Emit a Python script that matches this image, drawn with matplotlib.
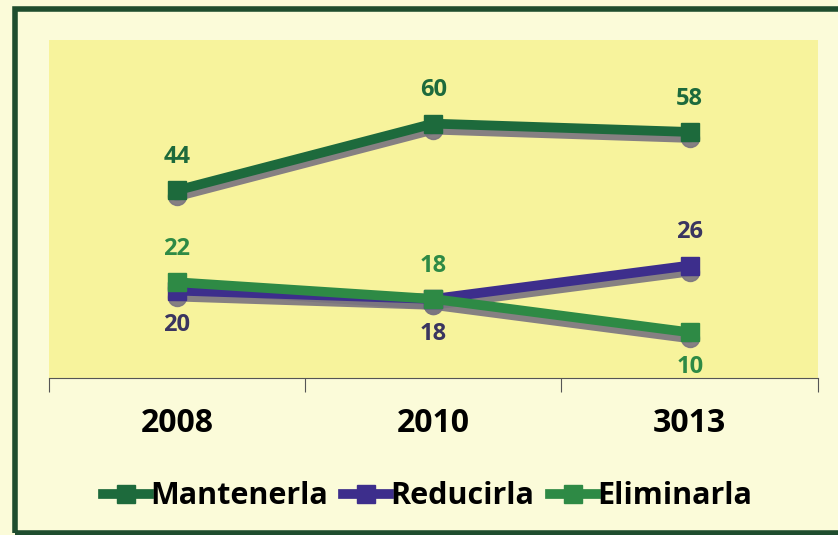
import matplotlib
matplotlib.use("Agg")
import matplotlib.pyplot as plt
from matplotlib.lines import Line2D
from matplotlib.patches import Rectangle
from matplotlib.transforms import offset_copy

years = ["2008", "2010", "3013"]
mantenerla = [44, 60, 58]
reducirla = [20, 18, 26]
eliminarla = [22, 18, 10]

# name, values, line colour, label colour, label above(+1)/below(-1)
series = [
    ("Mantenerla", mantenerla, "#1d6a3c", "#1d6a3c", [1, 1, 1]),
    ("Reducirla", reducirla, "#3d2e8c", "#3a3560", [-1, -1, 1]),
    ("Eliminarla", eliminarla, "#2e8a45", "#2e8a45", [1, 1, -1]),
]

plt.rcParams["font.family"] = ["Open Sans", "DejaVu Sans"]

fig = plt.figure(figsize=(8.38, 5.35), dpi=100)
fig.patch.set_facecolor("#fbfbd9")
ax = fig.add_axes([0.058, 0.293, 0.918, 0.632])
ax.set_facecolor("#f7f39c")

x = list(range(len(years)))
shadow_tr = offset_copy(ax.transData, fig=fig, x=0, y=-6, units="dots")
for name, vals, col, lcol, pos in series:
    ax.plot(x, vals, "-o", color="#7a7480", lw=7, ms=13, transform=shadow_tr,
            solid_capstyle="round", alpha=0.9, zorder=2)
for name, vals, col, lcol, pos in series:
    ax.plot(x, vals, "-s", color=col, lw=7, ms=13, zorder=3)
    for xi, v, p in zip(x, vals, pos):
        off = 24 if p > 0 else -25
        ax.annotate(str(v), (xi, v), textcoords="offset points", xytext=(0, off),
                    ha="center", va="center", fontsize=17, fontweight="bold", color=lcol,
                    zorder=4)

ax.set_xlim(-0.5, 2.5)
ax.set_ylim(-1, 80)
ax.set_yticks([])
ax.set_xticks([-0.5, 0.5, 1.5, 2.5])
ax.set_xticklabels([])
ax.set_xticks(x, minor=True)
ax.set_xticklabels(years, minor=True, fontsize=23, fontweight="bold")
ax.tick_params(axis="x", which="minor", length=0, pad=21)
ax.tick_params(axis="x", which="major", length=10, color="#555555", direction="out")
for s in ["top", "right", "left"]:
    ax.spines[s].set_visible(False)
ax.spines["bottom"].set_color("#555555")

handles = [Line2D([], [], color=c, lw=7, marker="s", ms=13) for _, _, c, _, _ in series]
leg = fig.legend(handles, [s[0] for s in series], loc="center",
                 bbox_to_anchor=(0.51, 0.072), ncol=3, frameon=False,
                 fontsize=22, handlelength=1.5, handletextpad=0.05, columnspacing=0.5)
for t in leg.get_texts():
    t.set_fontweight("bold")

fig.patches.append(Rectangle((0.018, 0.004), 1.0, 0.98, transform=fig.transFigure,
                             fill=False, edgecolor="#1f4d2e", lw=4))

fig.savefig("out.png", dpi=100, facecolor=fig.get_facecolor())
